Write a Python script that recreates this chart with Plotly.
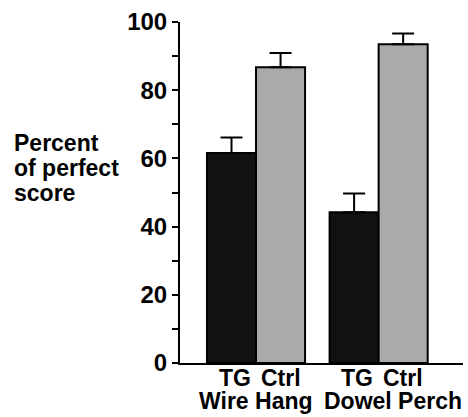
import plotly.graph_objects as go

groups = ["Wire Hang", "Dowel Perch"]
bar_labels = ["TG", "Ctrl"]
tg_values = [61.6, 44.2]
tg_errors = [4.5, 5.5]
ctrl_values = [86.7, 93.5]
ctrl_errors = [4.2, 3.1]
y_ticks = [0, 20, 40, 60, 80, 100]
y_title_lines = ["Percent", "of perfect", "score"]

tg_x = [0, 2.5]
ctrl_x = [1, 3.5]

W, H = 468, 417
L, R, T, B = 180, 5, 22, 54
pw, ph = W - L - R, H - T - B

def px_x(p):
    return (p - L) / pw

def px_y(p):
    return (H - B - p) / ph

FONT = "Liberation Sans, Arial, Helvetica, sans-serif"

fig = go.Figure()
fig.add_trace(go.Bar(
    x=tg_x, y=tg_values, width=1,
    marker=dict(color="#111111", line=dict(color="black", width=2)),
    error_y=dict(type="data", symmetric=False, array=tg_errors,
                 arrayminus=[0, 0], color="black", thickness=2, width=11),
    showlegend=False,
))
fig.add_trace(go.Bar(
    x=ctrl_x, y=ctrl_values, width=1,
    marker=dict(color="#aaaaaa", line=dict(color="black", width=2)),
    error_y=dict(type="data", symmetric=False, array=ctrl_errors,
                 arrayminus=[0, 0], color="black", thickness=2, width=11),
    showlegend=False,
))

annotations = []
for i, line in enumerate(y_title_lines):
    annotations.append(dict(
        text="<b>%s</b>" % line, xref="paper", yref="paper",
        x=px_x(12), y=px_y(143 + 25 * i), xanchor="left", yanchor="middle",
        showarrow=False, font=dict(size=23, color="black", family=FONT),
    ))

# bar labels under each bar
for xs, lab, shift in [(tg_x, bar_labels[0], 3), (ctrl_x, bar_labels[1], 0)]:
    for xv in xs:
        annotations.append(dict(
            text="<b>%s</b>" % lab, xref="x", yref="paper",
            x=xv, xshift=shift, y=px_y(377.5), xanchor="center", yanchor="middle",
            showarrow=False, font=dict(size=23, color="black", family=FONT),
        ))

group_px = [256, 393]
for g, gx in zip(groups, group_px):
    annotations.append(dict(
        text="<b>%s</b>" % g, xref="paper", yref="paper",
        x=px_x(gx), y=px_y(401), xanchor="center", yanchor="middle",
        showarrow=False, font=dict(size=23, color="black", family=FONT),
    ))

fig.update_layout(
    width=W, height=H,
    margin=dict(l=L, r=R, t=T, b=B, pad=0),
    paper_bgcolor="white", plot_bgcolor="white",
    barmode="overlay",
    font=dict(family=FONT, color="black"),
    xaxis=dict(
        range=[-1.05, 4.72], showgrid=False, zeroline=False,
        showline=True, linecolor="black", linewidth=2,
        showticklabels=False, ticks="",
        fixedrange=True,
    ),
    yaxis=dict(
        range=[0, 100], showgrid=False, zeroline=False,
        showline=True, linecolor="black", linewidth=2,
        tickvals=y_ticks, ticktext=["<b>%d</b>" % v for v in y_ticks],
        ticks="outside", ticklen=6, tickwidth=2, tickcolor="black",
        minor=dict(dtick=10, ticks="outside", ticklen=6, tickwidth=2, tickcolor="black"),
        tickfont=dict(size=24, color="black", family=FONT),
        fixedrange=True,
    ),
    annotations=annotations,
)

fig.write_html(
    "out.html",
    config={"displayModeBar": False},
    post_script="document.body.style.margin='0';document.body.style.padding='0';",
)
